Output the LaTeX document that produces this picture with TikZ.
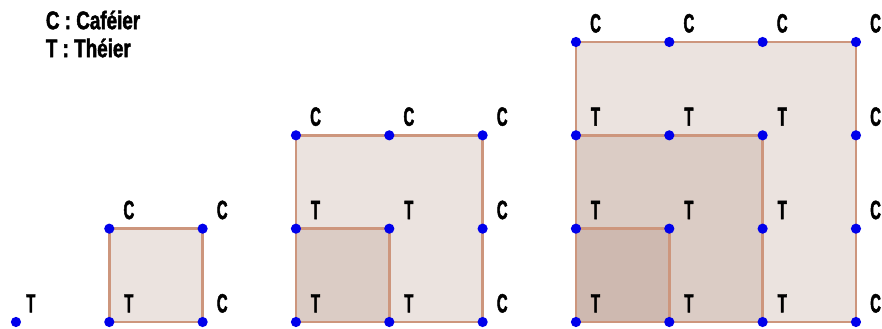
\documentclass[tikz,border=0pt]{standalone}
\usepackage{fontspec}
\newfontfamily\etiq{Liberation Sans}[FakeStretch=0.56, FakeBold=1.8]
\newfontfamily\legende{Liberation Sans}[FakeStretch=0.74, FakeBold=1.8]
\definecolor{brun}{RGB}{150,105,85}
\definecolor{bord}{RGB}{205,150,125}
\definecolor{bleu}{RGB}{0,0,235}
\begin{document}
\begin{tikzpicture}[x=1.8666cm, y=1.8666cm,
    carre/.style={fill=brun, fill opacity=.19, draw=bord, line width=1.4pt},
    sommet/.style={circle, fill=bleu, inner sep=0pt, minimum size=5.8pt},
    lettre/.style={font=\etiq\bfseries\fontsize{15}{17}\selectfont, inner sep=0pt},
    titre/.style={font=\legende\bfseries\fontsize{14.5}{16}\selectfont, inner sep=0pt, anchor=west}]
    \useasboundingbox (-1.171,-0.075) rectangle (8.279,3.450);

    % Légende
    \node[titre] (leg-c) at (-0.683,3.236) {C~:~Caféier};
    \node[titre] (leg-t) at (-0.683,2.936) {T~:~Théier};

    % Premier motif : un seul théier
    \node[sommet] (p0) at (-1,0) {};
    \node[lettre] (e0) at (-0.84,0.2) {T};

    % Carrés emboîtés, du plus grand au plus petit
    \foreach \ox/\n in {0/1, 2/2, 5/3} {
        \foreach \k in {\n,...,1}
            \draw[carre] (\ox,0) rectangle (\ox+\k,\k);
    }

    % Sommets : T à l'intérieur, C sur le bord haut et droit
    \foreach \ox/\n in {0/1, 2/2, 5/3} {
        \foreach \i in {0,...,\n} {
            \foreach \j in {0,...,\n} {
                \ifnum\i<\n\relax
                    \ifnum\j<\n\relax \def\plant{T}\else\def\plant{C}\fi
                \else \def\plant{C}\fi
                \node[sommet] (p\n-\i-\j) at (\ox+\i,\j) {};
                \node[lettre] (e\n-\i-\j) at (\ox+\i+0.21,\j+0.2) {\plant};
            }
        }
    }
\end{tikzpicture}
\end{document}
